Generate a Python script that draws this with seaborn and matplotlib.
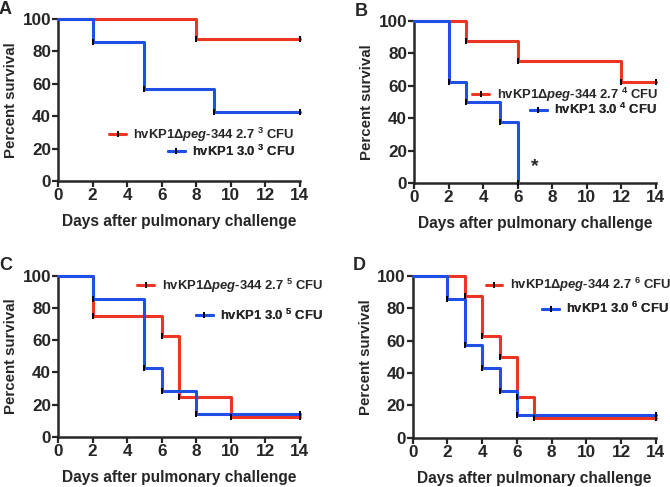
import matplotlib
matplotlib.use("Agg")
import matplotlib.pyplot as plt
from matplotlib import font_manager
from matplotlib.lines import Line2D
import seaborn as sns

# survival data (day, percent survival)
a_mut_days = [0, 8, 14]
a_mut_surv = [100, 87.5, 87.5]
a_wt_days = [0, 2, 5, 9, 14]
a_wt_surv = [100, 85.7, 57.1, 42.9, 42.9]

b_mut_days = [0, 3, 6, 12, 14]
b_mut_surv = [100, 87.5, 75, 62.5, 62.5]
b_wt_days = [0, 2, 3, 5, 6]
b_wt_surv = [100, 62.5, 50, 37.5, 0]

c_mut_days = [0, 2, 6, 7, 10, 14]
c_mut_surv = [100, 75, 62.5, 25, 12.5, 12.5]
c_wt_days = [0, 2, 5, 6, 8, 14]
c_wt_surv = [100, 85.7, 42.9, 28.6, 14.3, 14.3]

d_mut_days = [0, 3, 4, 5, 6, 7, 14]
d_mut_surv = [100, 87.5, 62.5, 50, 25, 12.5, 12.5]
d_wt_days = [0, 2, 3, 4, 5, 6, 14]
d_wt_surv = [100, 85.7, 57.1, 42.9, 28.6, 14.3, 14.3]

panel_letters = ["A", "B", "C", "D"]
exponents = ["3", "4", "5", "6"]

RED = "#ee3524"
BLUE = "#1f4fe6"

sns.set_style("ticks")
plt.rcParams["font.family"] = ["Liberation Sans", "DejaVu Sans"]
plt.rcParams["font.weight"] = "bold"

# legend text is a narrow face in the original
installed = {f.name for f in font_manager.fontManager.ttflist}
if "Liberation Sans Narrow" in installed:
    leg_font = "Liberation Sans Narrow"
    leg_size = 11.3
else:
    leg_font = "Liberation Sans"
    leg_size = 9.4
plt.rcParams["mathtext.fontset"] = "custom"
plt.rcParams["mathtext.rm"] = leg_font + ":bold"
plt.rcParams["mathtext.it"] = leg_font + ":italic:bold"
plt.rcParams["mathtext.bf"] = leg_font + ":bold"

fig = plt.figure(figsize=(6.7, 4.87), dpi=100)

positions = [
    [0.0866, 0.628, 0.361, 0.333],
    [0.618, 0.624, 0.361, 0.333],
    [0.0866, 0.103, 0.361, 0.331],
    [0.616, 0.101, 0.363, 0.333],
]

panels = [
    (a_mut_days, a_mut_surv, a_wt_days, a_wt_surv),
    (b_mut_days, b_mut_surv, b_wt_days, b_wt_surv),
    (c_mut_days, c_mut_surv, c_wt_days, c_wt_surv),
    (d_mut_days, d_mut_surv, d_wt_days, d_wt_surv),
]

# legend anchor (axes fraction): right edge x, y centre for red / blue
legend_spots = [
    [(0.979, 0.287), (0.979, 0.185)],
    [(1.008, 0.545), (1.004, 0.452)],
    [(1.095, 0.936), (1.095, 0.753)],
    [(1.062, 0.940), (1.055, 0.796)],
]


def step_curve(ax, days, surv, color):
    sns.lineplot(x=days, y=surv, ax=ax, color=color, linewidth=2.2,
                 drawstyle="steps-post", clip_on=False, estimator=None,
                 sort=False, zorder=3)
    ax.plot(days[1:], surv[1:], linestyle="none", marker="|", color="black",
            markersize=4, markeredgewidth=1.4, clip_on=False, zorder=4)


for i, pos in enumerate(positions):
    ax = fig.add_axes(pos)
    mut_d, mut_s, wt_d, wt_s = panels[i]
    step_curve(ax, mut_d, mut_s, RED)
    step_curve(ax, wt_d, wt_s, BLUE)

    ax.set_xlim(0, 14)
    ax.set_ylim(0, 100)
    ax.set_xticks(range(0, 15, 2))
    ax.set_yticks(range(0, 101, 20))
    sns.despine(ax=ax)
    for s in ["left", "bottom"]:
        ax.spines[s].set_linewidth(1.8)
    ax.tick_params(width=1.6, length=4, labelsize=12.3, pad=1)
    for lab in ax.get_xticklabels() + ax.get_yticklabels():
        lab.set_fontweight("bold")
    ax.set_xlabel("Days after pulmonary challenge", fontsize=11.2,
                  fontweight="bold", labelpad=8)
    ax.set_ylabel("Percent survival", fontsize=10.8, fontweight="bold",
                  labelpad=3)

    ax.text(-0.245, 1.06, panel_letters[i], transform=ax.transAxes,
            fontsize=13, fontweight="bold", va="center", ha="left")

    e = exponents[i]
    labels = [r"hvKP1Δ$peg$-$\mathit{344}$ 2.7 $^{" + e + r"}$ CFU",
              r"hvKP1 3.0 $^{" + e + r"}$ CFU"]
    colors = [RED, BLUE]
    for j in range(2):
        h = Line2D([], [], color=colors[j], linewidth=2.2, marker="|",
                   markeredgecolor="black", markersize=4, markeredgewidth=1.4)
        leg = ax.legend([h], [labels[j]], loc="center right",
                        bbox_to_anchor=legend_spots[i][j], frameon=False,
                        prop={"family": leg_font, "weight": "bold",
                              "size": leg_size},
                        handlelength=1.3, handletextpad=0.55,
                        borderpad=0, borderaxespad=0, numpoints=1)
        ax.add_artist(leg)

    if i == 1:
        ax.text(7.0, 10.5, "*", fontsize=14, fontweight="bold",
                ha="center", va="center")

fig.savefig("out.png", dpi=100)
